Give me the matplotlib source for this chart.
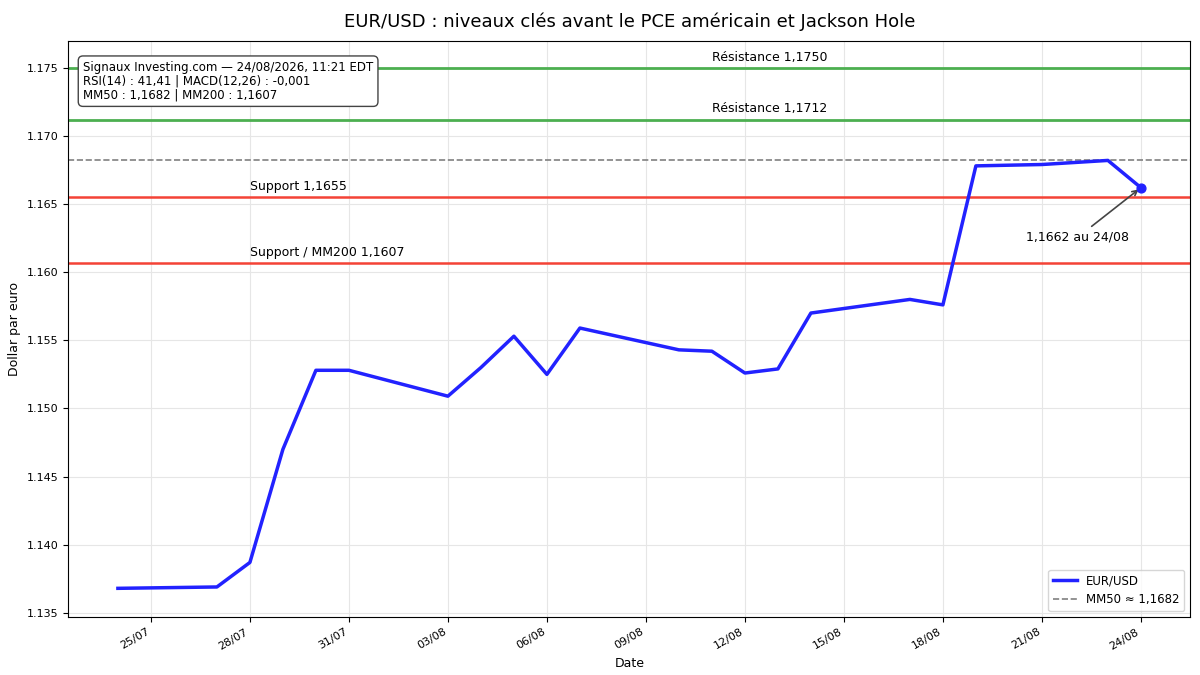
import matplotlib
matplotlib.use("Agg")
import matplotlib.pyplot as plt
import matplotlib.dates as mdates
import pandas as pd

dates = ["2026-07-24","2026-07-27","2026-07-28","2026-07-29","2026-07-30","2026-07-31",
         "2026-08-03","2026-08-04","2026-08-05","2026-08-06","2026-08-07","2026-08-10",
         "2026-08-11","2026-08-12","2026-08-13","2026-08-14","2026-08-17","2026-08-18",
         "2026-08-19","2026-08-21","2026-08-23","2026-08-24"]
prices = [1.1368,1.1369,1.1387,1.1470,1.1528,1.1528,1.1509,1.1530,1.1553,1.1525,1.1559,1.1543,
          1.1542,1.1526,1.1529,1.1570,1.1580,1.1576,1.1678,1.1679,1.1682,1.1662]
resistances = [1.1750, 1.1712]
supports = [1.1655, 1.1607]
support_labels = ["Support 1,1655", "Support / MM200 1,1607"]
mm50 = 1.1682

d = pd.to_datetime(dates)
fig, ax = plt.subplots(figsize=(12, 6.75), dpi=100)
fig.subplots_adjust(left=0.057, right=0.992, top=0.94, bottom=0.086)

for r in resistances:
    ax.axhline(r, color="#4caf50", lw=2)
for s in supports:
    ax.axhline(s, color="#f44336", lw=1.8)
h2 = ax.axhline(mm50, color="gray", ls="--", lw=1.2, label="MM50 ≈ 1,1682")
h1, = ax.plot(d, prices, color="#2222ff", lw=2.5, label="EUR/USD")
ax.scatter([d[-1]], [prices[-1]], color="#2222ff", s=40, zorder=5)

for r in resistances:
    ax.text(pd.Timestamp("2026-08-12 18:00"), r + 0.0003, "Résistance " + f"{r:.4f}".replace(".", ","),
            ha="center", va="bottom", fontsize=9)
for s, lab in zip(supports, support_labels):
    ax.text(pd.Timestamp("2026-07-28"), s + 0.0003, lab, ha="left", va="bottom", fontsize=9)

ax.annotate("1,1662 au 24/08", xy=(d[-1], prices[-1]), xytext=(pd.Timestamp("2026-08-22 02:00"), 1.1623),
            ha="center", fontsize=9, arrowprops=dict(arrowstyle="->", color="#444444", lw=1.2))

ax.text(0.013, 0.965, "Signaux Investing.com — 24/08/2026, 11:21 EDT\nRSI(14) : 41,41 | MACD(12,26) : -0,001\nMM50 : 1,1682 | MM200 : 1,1607",
        transform=ax.transAxes, va="top", ha="left", fontsize=8.5, linespacing=1.1,
        bbox=dict(boxstyle="round,pad=0.4", fc="white", ec="#444444", lw=1))

ax.set_xlim(pd.Timestamp("2026-07-22 12:00"), pd.Timestamp("2026-08-25 12:00"))
ax.set_ylim(1.1347, 1.1770)
ax.set_xticks(pd.date_range("2026-07-25", "2026-08-24", freq="3D"))
ax.xaxis.set_major_formatter(mdates.DateFormatter("%d/%m"))
plt.setp(ax.get_xticklabels(), rotation=30, ha="right", fontsize=8)
ax.tick_params(axis="y", labelsize=8)
ax.yaxis.set_major_formatter(matplotlib.ticker.FormatStrFormatter("%.3f"))
ax.grid(True, color="#e6e6e6", lw=0.8)
ax.set_xlabel("Date", fontsize=9)
ax.set_ylabel("Dollar par euro", fontsize=9)
ax.set_title("EUR/USD : niveaux clés avant le PCE américain et Jackson Hole", fontsize=13, pad=10)
ax.legend(handles=[h1, h2], loc="lower right", fontsize=8.5)
fig.savefig("out.png")
